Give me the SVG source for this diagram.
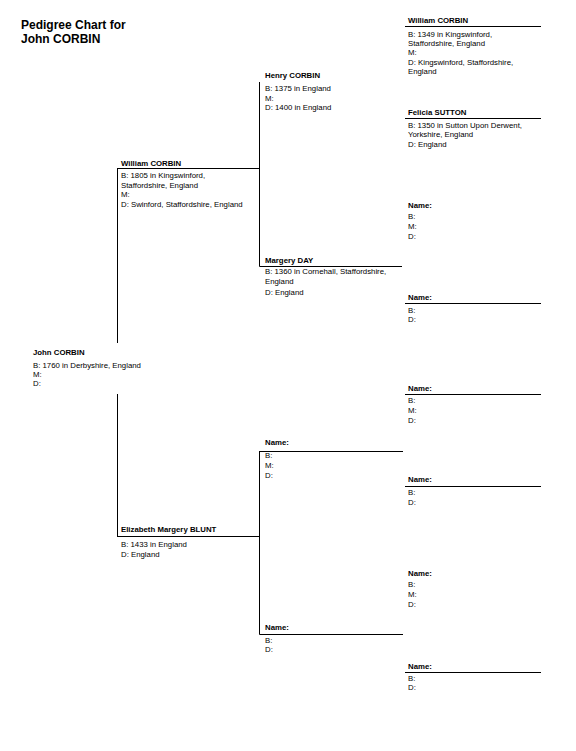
<svg xmlns="http://www.w3.org/2000/svg" width="576" height="751" viewBox="0 0 576 751">
<style>
text{font-family:"Liberation Sans",Arial,sans-serif;fill:#000}
.title{font-size:12px;font-weight:bold}
.nm{font-size:7.8px;font-weight:bold}
.dt{font-size:7.8px}
.ln{stroke:#000;stroke-width:1;fill:none}
</style>
<rect width="576" height="751" fill="#fff"/>
<text class="title" x="21" y="29">Pedigree Chart for</text>
<text class="title" x="21" y="43">John CORBIN</text>
<g id="connectors">
<path class="ln" d="M117.5,168.5H259.5M117.5,536.5H259.5M117.5,168V343M117.5,394V537"/>
<path class="ln" d="M259.5,82V266.5M259.5,266.5H402M259.5,451V634.5M259.5,451.5H403M259.5,634.5H403"/>
<path class="ln" d="M405,26.5H541M405,118.5H541M405,303.5H541M405,394.5H541M405,486.5H541M405,672.5H541"/>
</g>
<g id="p1"><text class="nm" x="33" y="355">John CORBIN</text><text class="dt" x="33" y="368">B: 1760 in Derbyshire, England</text><text class="dt" x="33" y="377">M:</text><text class="dt" x="33" y="386">D:</text></g>
<g id="p2"><text class="nm" x="121" y="166">William CORBIN</text><text class="dt" x="121" y="178">B: 1805 in Kingswinford,</text><text class="dt" x="121" y="188">Staffordshire, England</text><text class="dt" x="121" y="197">M:</text><text class="dt" x="121" y="207">D: Swinford, Staffordshire, England</text></g>
<g id="p3"><text class="nm" x="121" y="532">Elizabeth Margery BLUNT</text><text class="dt" x="121" y="547">B: 1433 in England</text><text class="dt" x="121" y="557">D: England</text></g>
<g id="p4"><text class="nm" x="265" y="78">Henry CORBIN</text><text class="dt" x="265" y="91">B: 1375 in England</text><text class="dt" x="265" y="101">M:</text><text class="dt" x="265" y="110">D: 1400 in England</text></g>
<g id="p5"><text class="nm" x="265" y="263">Margery DAY</text><text class="dt" x="265" y="274">B: 1360 in Cornehall, Staffordshire,</text><text class="dt" x="265" y="284">England</text><text class="dt" x="265" y="295">D: England</text></g>
<g id="p6"><text class="nm" x="265" y="445">Name:</text><text class="dt" x="265" y="458">B:</text><text class="dt" x="265" y="468">M:</text><text class="dt" x="265" y="478">D:</text></g>
<g id="p7"><text class="nm" x="265" y="630">Name:</text><text class="dt" x="265" y="643">B:</text><text class="dt" x="265" y="652">D:</text></g>
<g id="p8"><text class="nm" x="408" y="23">William CORBIN</text><text class="dt" x="408" y="37">B: 1349 in Kingswinford,</text><text class="dt" x="408" y="46">Staffordshire, England</text><text class="dt" x="408" y="55">M:</text><text class="dt" x="408" y="65">D: Kingswinford, Staffordshire,</text><text class="dt" x="408" y="74">England</text></g>
<g id="p9"><text class="nm" x="408" y="115">Felicia SUTTON</text><text class="dt" x="408" y="128">B: 1350 in Sutton Upon Derwent,</text><text class="dt" x="408" y="137">Yorkshire, England</text><text class="dt" x="408" y="147">D: England</text></g>
<g id="p10"><text class="nm" x="408" y="208">Name:</text><text class="dt" x="408" y="219">B:</text><text class="dt" x="408" y="229">M:</text><text class="dt" x="408" y="239">D:</text></g>
<g id="p11"><text class="nm" x="408" y="300">Name:</text><text class="dt" x="408" y="313">B:</text><text class="dt" x="408" y="322">D:</text></g>
<g id="p12"><text class="nm" x="408" y="391">Name:</text><text class="dt" x="408" y="403">B:</text><text class="dt" x="408" y="413">M:</text><text class="dt" x="408" y="423">D:</text></g>
<g id="p13"><text class="nm" x="408" y="482">Name:</text><text class="dt" x="408" y="495">B:</text><text class="dt" x="408" y="505">D:</text></g>
<g id="p14"><text class="nm" x="408" y="576">Name:</text><text class="dt" x="408" y="587">B:</text><text class="dt" x="408" y="597">M:</text><text class="dt" x="408" y="607">D:</text></g>
<g id="p15"><text class="nm" x="408" y="669">Name:</text><text class="dt" x="408" y="681">B:</text><text class="dt" x="408" y="690">D:</text></g>
</svg>
